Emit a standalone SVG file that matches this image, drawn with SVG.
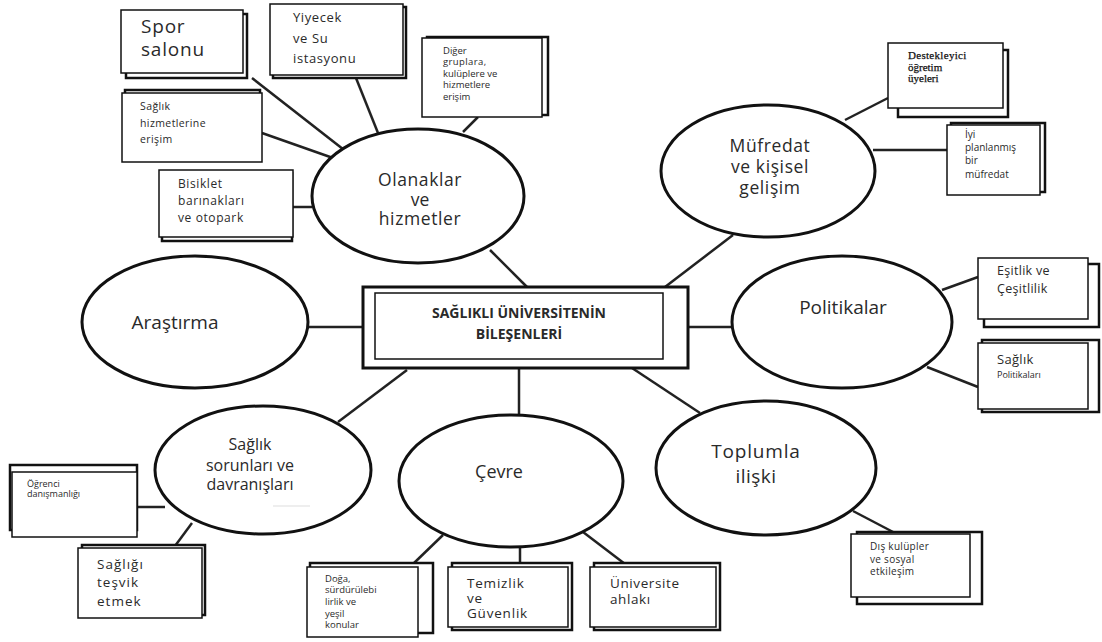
<svg xmlns="http://www.w3.org/2000/svg" width="1102" height="642" viewBox="0 0 1102 642">
<style>
.c{fill:#fff;stroke:#111;stroke-width:3}
.bk{fill:#fff;stroke:#111;stroke-width:2.5}
.fr{fill:#fff;stroke:#111;stroke-width:1.5}
.ln{stroke:#222;stroke-width:2.5;fill:none}
text{font-family:"Open Sans","Noto Sans",sans-serif;fill:#2a2a2a}
.m{text-anchor:middle}
.serif{font-family:"Liberation Serif","DejaVu Serif",serif;fill:#111;stroke:#111;stroke-width:0.25}
</style>
<rect width="1102" height="642" fill="#fff"/>
<g id="connectors">
<line class="ln" x1="252" y1="78" x2="348" y2="153"/>
<line class="ln" x1="356" y1="78" x2="378" y2="133"/>
<line class="ln" x1="262" y1="133" x2="333" y2="158"/>
<line class="ln" x1="293" y1="207" x2="312" y2="207"/>
<line class="ln" x1="478" y1="117" x2="463" y2="132"/>
<line class="ln" x1="490" y1="250" x2="527" y2="287"/>
<line class="ln" x1="733" y1="235" x2="665" y2="287"/>
<line class="ln" x1="845" y1="120" x2="888" y2="98"/>
<line class="ln" x1="873" y1="150" x2="947" y2="150"/>
<line class="ln" x1="308" y1="327" x2="363" y2="327"/>
<line class="ln" x1="688" y1="327" x2="733" y2="327"/>
<line class="ln" x1="942" y1="290" x2="978" y2="277"/>
<line class="ln" x1="927" y1="367" x2="978" y2="387"/>
<line class="ln" x1="407" y1="370" x2="338" y2="422"/>
<line class="ln" x1="519" y1="368" x2="519" y2="415"/>
<line class="ln" x1="632" y1="368" x2="700" y2="413"/>
<line class="ln" x1="853" y1="511" x2="895" y2="533"/>
<line class="ln" x1="137" y1="507" x2="165" y2="507"/>
<line class="ln" x1="192" y1="523" x2="175" y2="546"/>
<line class="ln" x1="443" y1="535" x2="413" y2="564"/>
<line class="ln" x1="520" y1="546" x2="520" y2="564"/>
<line class="ln" x1="583" y1="532" x2="625" y2="564"/>
</g>
<g id="center">
<rect x="363" y="287" width="325" height="81" fill="#fff" stroke="#111" stroke-width="3"/>
<rect x="375" y="293" width="288" height="66" class="fr"/>
<text x="519" y="318" class="m" font-size="14" font-weight="bold">SAĞLIKLI ÜNİVERSİTENİN</text>
<text x="519" y="339" class="m" font-size="14" font-weight="bold">BİLEŞENLERİ</text>
</g>
<g id="olanaklar">
<ellipse class="c" cx="418" cy="196" rx="106" ry="67"/>
<text x="420" y="186" class="m" font-size="17.5" letter-spacing="0.6">Olanaklar</text>
<text x="420" y="206" class="m" font-size="17.5">ve</text>
<text x="420" y="225" class="m" font-size="17.5" letter-spacing="0.6">hizmetler</text>
</g>
<g id="mufredat">
<ellipse class="c" cx="768" cy="171" rx="107" ry="66"/>
<text x="770" y="152" class="m" font-size="17.5" letter-spacing="0.6">Müfredat</text>
<text x="770" y="173" class="m" font-size="17.5" letter-spacing="0.6">ve kişisel</text>
<text x="770" y="194" class="m" font-size="17.5" letter-spacing="0.6">gelişim</text>
</g>
<g id="arastirma">
<ellipse class="c" cx="195" cy="322" rx="113" ry="66"/>
<text x="175" y="329" class="m" font-size="19">Araştırma</text>
</g>
<g id="politikalar">
<ellipse class="c" cx="842" cy="322" rx="110" ry="66"/>
<text x="843" y="314" class="m" font-size="19">Politikalar</text>
</g>
<g id="saglik-sorunlari">
<ellipse class="c" cx="263" cy="470" rx="108" ry="64"/>
<line x1="273" y1="506" x2="310" y2="506" stroke="#ddd" stroke-width="1"/>
<text x="250" y="450" class="m" font-size="16">Sağlık</text>
<text x="250" y="471" class="m" font-size="16">sorunları ve</text>
<text x="250" y="490" class="m" font-size="16">davranışları</text>
</g>
<g id="cevre">
<ellipse class="c" cx="511" cy="481" rx="112" ry="66"/>
<text x="499" y="478" class="m" font-size="18">Çevre</text>
</g>
<g id="toplumla">
<ellipse class="c" cx="766" cy="468" rx="110" ry="67"/>
<text x="756" y="458" class="m" font-size="19" letter-spacing="0.8">Toplumla</text>
<text x="756" y="483" class="m" font-size="19" letter-spacing="0.5">ilişki</text>
</g>
<g id="spor">
<rect class="bk" x="126" y="14" width="121" height="64"/>
<rect class="fr" x="121" y="10" width="122" height="63"/>
<text x="141" y="33" font-size="19" letter-spacing="0.8">Spor</text>
<text x="141" y="56" font-size="19" letter-spacing="0.8">salonu</text>
</g>
<g id="yiyecek">
<rect class="bk" x="273" y="7" width="133" height="71"/>
<rect class="fr" x="270" y="4" width="133" height="71"/>
<text x="293" y="22" font-size="13" letter-spacing="0.6">Yiyecek</text>
<text x="293" y="43" font-size="13" letter-spacing="0.6">ve Su</text>
<text x="293" y="63" font-size="13" letter-spacing="0.6">istasyonu</text>
</g>
<g id="saglik-hizmet">
<rect class="bk" x="125" y="90" width="135" height="68"/>
<rect class="fr" x="122" y="93" width="140" height="69"/>
<text x="140" y="110" font-size="10.5" letter-spacing="0.4">Sağlık</text>
<text x="140" y="127" font-size="10.5" letter-spacing="0.4">hizmetlerine</text>
<text x="140" y="143" font-size="10.5" letter-spacing="0.4">erişim</text>
</g>
<g id="bisiklet">
<rect class="bk" x="162" y="173" width="130" height="68"/>
<rect class="fr" x="159" y="170" width="134" height="67"/>
<text x="178" y="188" font-size="12" letter-spacing="0.6">Bisiklet</text>
<text x="178" y="205" font-size="12" letter-spacing="0.6">barınakları</text>
<text x="178" y="222" font-size="12" letter-spacing="0.6">ve otopark</text>
</g>
<g id="diger">
<rect class="bk" x="427" y="37" width="121" height="78"/>
<rect class="fr" x="422" y="38" width="120" height="79"/>
<text x="443" y="54" font-size="9.5">Diğer</text>
<text x="443" y="65" font-size="9.5" letter-spacing="0.4">gruplara,</text>
<text x="443" y="77" font-size="9.5">kulüplere ve</text>
<text x="443" y="88" font-size="9.5">hizmetlere</text>
<text x="443" y="100" font-size="9.5">erişim</text>
</g>
<g id="destekleyici">
<rect class="bk" x="898" y="50" width="110" height="67"/>
<rect class="fr" x="888" y="43" width="115" height="65"/>
<text x="908" y="59" class="serif" font-size="11" letter-spacing="0.3">Destekleyici</text>
<text x="908" y="71" class="serif" font-size="11">öğretim</text>
<text x="908" y="82" class="serif" font-size="11">üyeleri</text>
</g>
<g id="iyi">
<rect class="bk" x="951" y="123" width="94" height="69"/>
<rect class="fr" x="947" y="125" width="93" height="70"/>
<text x="965" y="138" font-size="10">İyi</text>
<text x="965" y="151" font-size="10">planlanmış</text>
<text x="965" y="164" font-size="10">bir</text>
<text x="965" y="178" font-size="10">müfredat</text>
</g>
<g id="esitlik">
<rect class="bk" x="984" y="264" width="115" height="63"/>
<rect class="fr" x="978" y="258" width="110" height="61"/>
<text x="997" y="275" font-size="12.5" letter-spacing="0.3">Eşitlik ve</text>
<text x="997" y="293" font-size="12.5" letter-spacing="0.3">Çeşitlilik</text>
</g>
<g id="saglik-pol">
<rect class="bk" x="982" y="340" width="117" height="72"/>
<rect class="fr" x="978" y="343" width="110" height="66"/>
<text x="997" y="364" font-size="13" letter-spacing="0.3">Sağlık</text>
<text x="997" y="378" font-size="9">Politikaları</text>
</g>
<g id="dis-kulupler">
<rect class="bk" x="857" y="532" width="125" height="72"/>
<rect class="fr" x="851" y="534" width="119" height="63"/>
<text x="870" y="550" font-size="10" letter-spacing="0.3" fill="#555">Dış kulüpler</text>
<text x="870" y="563" font-size="10" letter-spacing="0.3" fill="#555">ve sosyal</text>
<text x="870" y="575" font-size="10" letter-spacing="0.3" fill="#555">etkileşim</text>
</g>
<g id="universite">
<rect class="bk" x="594" y="563" width="126" height="67"/>
<rect class="fr" x="590" y="567" width="126" height="60"/>
<text x="610" y="588" font-size="13.5" letter-spacing="0.6">Üniversite</text>
<text x="610" y="604" font-size="13.5" letter-spacing="0.6">ahlakı</text>
</g>
<g id="temizlik">
<rect class="bk" x="452" y="563" width="120" height="67"/>
<rect class="fr" x="448" y="567" width="120" height="60"/>
<text x="467" y="588" font-size="13.5" letter-spacing="0.8">Temizlik</text>
<text x="467" y="603" font-size="13.5" letter-spacing="0.8">ve</text>
<text x="467" y="618" font-size="13.5" letter-spacing="0.8">Güvenlik</text>
</g>
<g id="doga">
<rect class="bk" x="310" y="563" width="123" height="70"/>
<rect class="fr" x="307" y="567" width="111" height="70"/>
<text x="325" y="582" font-size="9.5">Doğa,</text>
<text x="325" y="593" font-size="9.5">sürdürülebi</text>
<text x="325" y="605" font-size="9.5">lirlik ve</text>
<text x="325" y="617" font-size="9.5">yeşil</text>
<text x="325" y="628" font-size="9.5">konular</text>
</g>
<g id="sagligi-tesvik">
<rect class="bk" x="82" y="545" width="123" height="70"/>
<rect class="fr" x="78" y="548" width="124" height="70"/>
<text x="97" y="569" font-size="13.5" letter-spacing="1">Sağlığı</text>
<text x="97" y="587" font-size="13.5" letter-spacing="1">teşvik</text>
<text x="97" y="606" font-size="13.5" letter-spacing="1">etmek</text>
</g>
<g id="ogrenci">
<rect class="bk" x="10" y="465" width="127" height="65"/>
<rect class="fr" x="12" y="472" width="125" height="65"/>
<text x="27" y="487" font-size="9">Öğrenci</text>
<text x="27" y="497" font-size="9">danışmanlığı</text>
</g>
</svg>
